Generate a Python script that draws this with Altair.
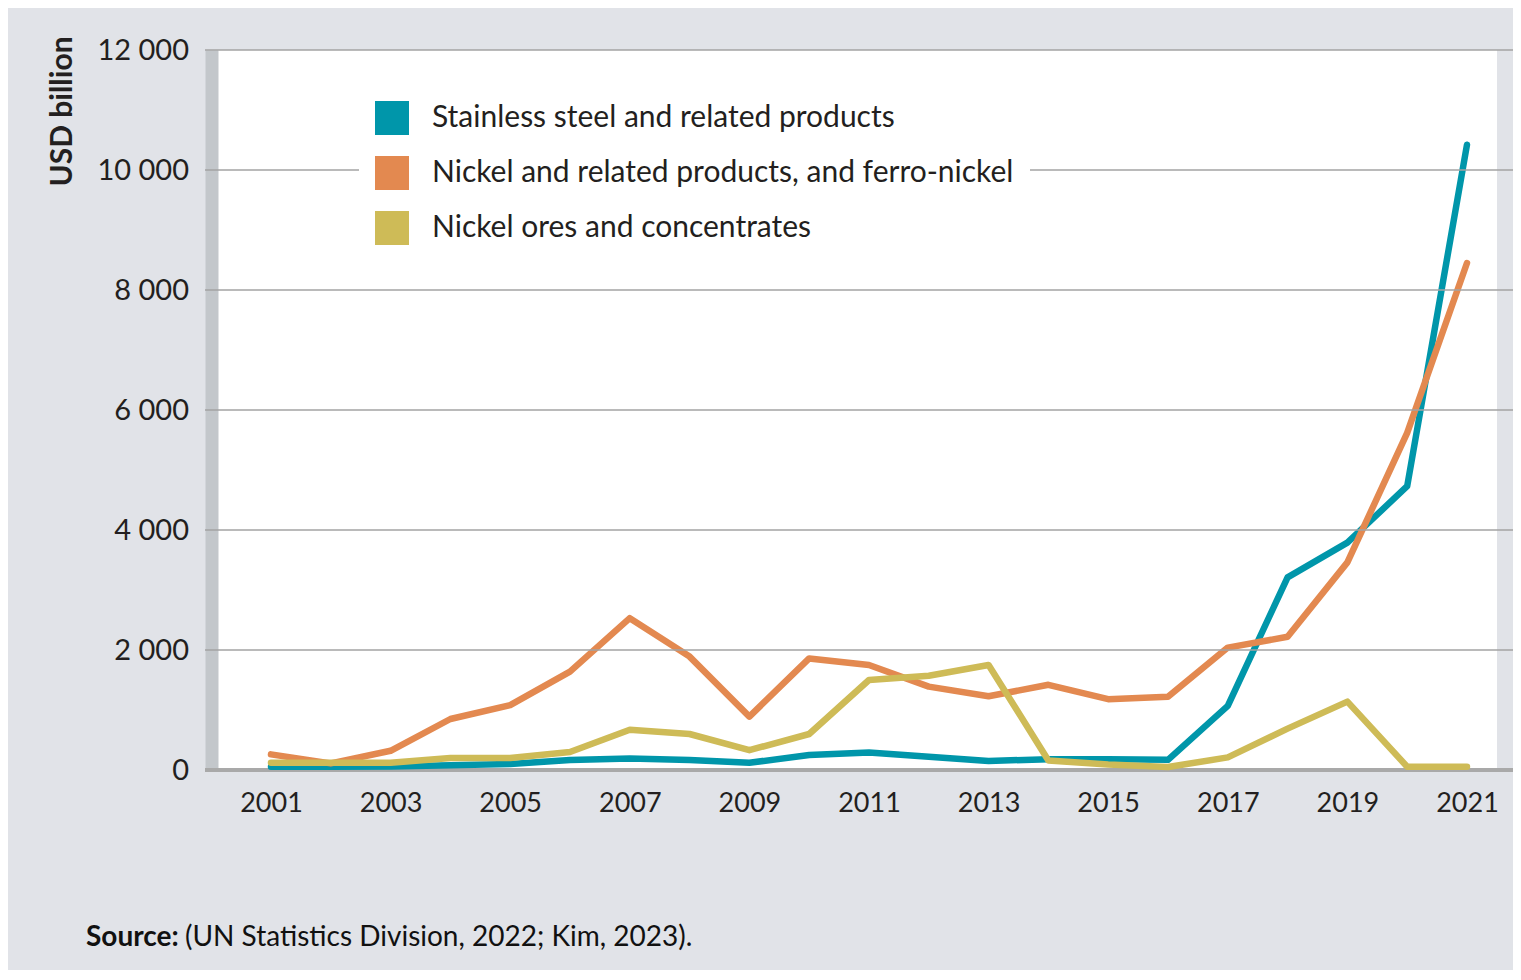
import altair as alt
import pandas as pd

years = list(range(2001, 2022))
stainless = [55, 55, 60, 80, 100, 165, 190, 165, 120, 250, 290, 220, 150, 180, 180, 170, 1070, 3210, 3790, 4730, 10420]
nickel = [260, 110, 320, 850, 1080, 1640, 2530, 1890, 890, 1860, 1750, 1390, 1230, 1420, 1180, 1220, 2040, 2220, 3460, 5620, 8450]
ores = [120, 120, 120, 200, 200, 300, 670, 600, 330, 600, 1500, 1570, 1750, 160, 90, 50, 210, 690, 1140, 55, 55]

series_names = [
    "Stainless steel and related products",
    "Nickel and related products, and ferro-nickel",
    "Nickel ores and concentrates",
]
series_colors = ["#0096aa", "#e38950", "#cebb57"]
y_ticks = [0, 2000, 4000, 6000, 8000, 10000, 12000]
x_ticks = list(range(2001, 2022, 2))
source_label = "Source:"
source_text = "(UN Statistics Division, 2022; Kim, 2023)."

rows = []
for name, vals in zip(series_names, [stainless, nickel, ores]):
    for yr, v in zip(years, vals):
        rows.append({"year": yr, "value": v, "series": name})
df = pd.DataFrame(rows)

W, H = 1279, 720
FONT = "Lato"
TXT = "#231f20"

xscale = alt.Scale(domain=[2000.114, 2021.502], nice=False, zero=False)
yscale = alt.Scale(domain=[0, 12000], nice=False)

y_axis = alt.Axis(
    values=y_ticks,
    labelExpr="replace(format(datum.value, ','), ',', ' ')",
    grid=False, ticks=False, domain=True,
    domainColor="#c3c7cb", domainWidth=13, offset=6.5,
    labelFont=FONT, labelFontSize=29, labelColor=TXT, labelPadding=23,
    title="USD billion", titleFont=FONT, titleFontSize=30,
    titleFontWeight="bold", titleColor=TXT, titleAngle=270,
    titleAlign="center", titleBaseline="middle",
    titleX=-149.5, titleY=61,
)
x_axis = alt.Axis(
    values=x_ticks, format="d", grid=False, ticks=False, domain=False,
    labelFont=FONT, labelFontSize=27, labelColor=TXT, labelPadding=20,
    title=None,
)

legend = alt.Legend(
    orient="none", legendX=141, legendY=35, title=None,
    fillColor="white", padding=16,
    symbolType="square", symbolSize=1156, symbolStrokeWidth=0,
    symbolOpacity=1,
    labelFont=FONT, labelFontSize=30, labelColor=TXT,
    labelOffset=23, rowPadding=21, labelLimit=1000,
)
color = alt.Color(
    "series:N",
    scale=alt.Scale(domain=series_names, range=series_colors),
    legend=legend,
)

base_rule = alt.Chart(pd.DataFrame({"v": [0]})).mark_rule(
    color="#a9a9a9", strokeWidth=4
).encode(
    y=alt.Y("v:Q", scale=yscale, axis=y_axis, title="USD billion"),
    x=alt.value(-13),
    x2=alt.value(W + 16),
)

keys = alt.Chart(df).mark_square(size=0, filled=True).encode(
    x=alt.X("year:Q", scale=xscale, axis=x_axis),
    y=alt.Y("value:Q", scale=yscale, axis=y_axis, title="USD billion"),
    color=color,
)

lines = alt.Chart(df).mark_line(
    strokeWidth=6.5, strokeCap="round", strokeJoin="round"
).encode(
    x=alt.X("year:Q", scale=xscale, axis=x_axis),
    y=alt.Y("value:Q", scale=yscale, axis=y_axis, title="USD billion"),
    color=color,
)

grid = alt.Chart(pd.DataFrame({"v": y_ticks[1:]})).mark_rule(
    color="#a3a3a3", strokeWidth=1.6
).encode(
    y=alt.Y("v:Q", scale=yscale, axis=y_axis, title="USD billion"),
    x=alt.value(-13),
    x2=alt.value(W + 16),
)

src1 = alt.Chart(pd.DataFrame({"t": [source_label]})).mark_text(
    align="left", baseline="alphabetic", font=FONT, fontSize=28,
    fontWeight="bold", color="#111111"
).encode(text="t:N", x=alt.value(-132), y=alt.value(896))

src2 = alt.Chart(pd.DataFrame({"t": [source_text]})).mark_text(
    align="left", baseline="alphabetic", font=FONT, fontSize=28,
    color="#111111"
).encode(text="t:N", x=alt.value(-33), y=alt.value(896))

chart = alt.layer(base_rule, keys, lines, grid, src1, src2).properties(
    width=W, height=H,
    padding={"left": 210, "top": 42, "right": 16, "bottom": 200},
    autosize=alt.AutoSizeParams(type="none"),
    background="#e1e3e8",
).configure_view(fill="white", strokeWidth=0)

chart.save("out.html", embed_options={"renderer": "svg", "actions": False})
